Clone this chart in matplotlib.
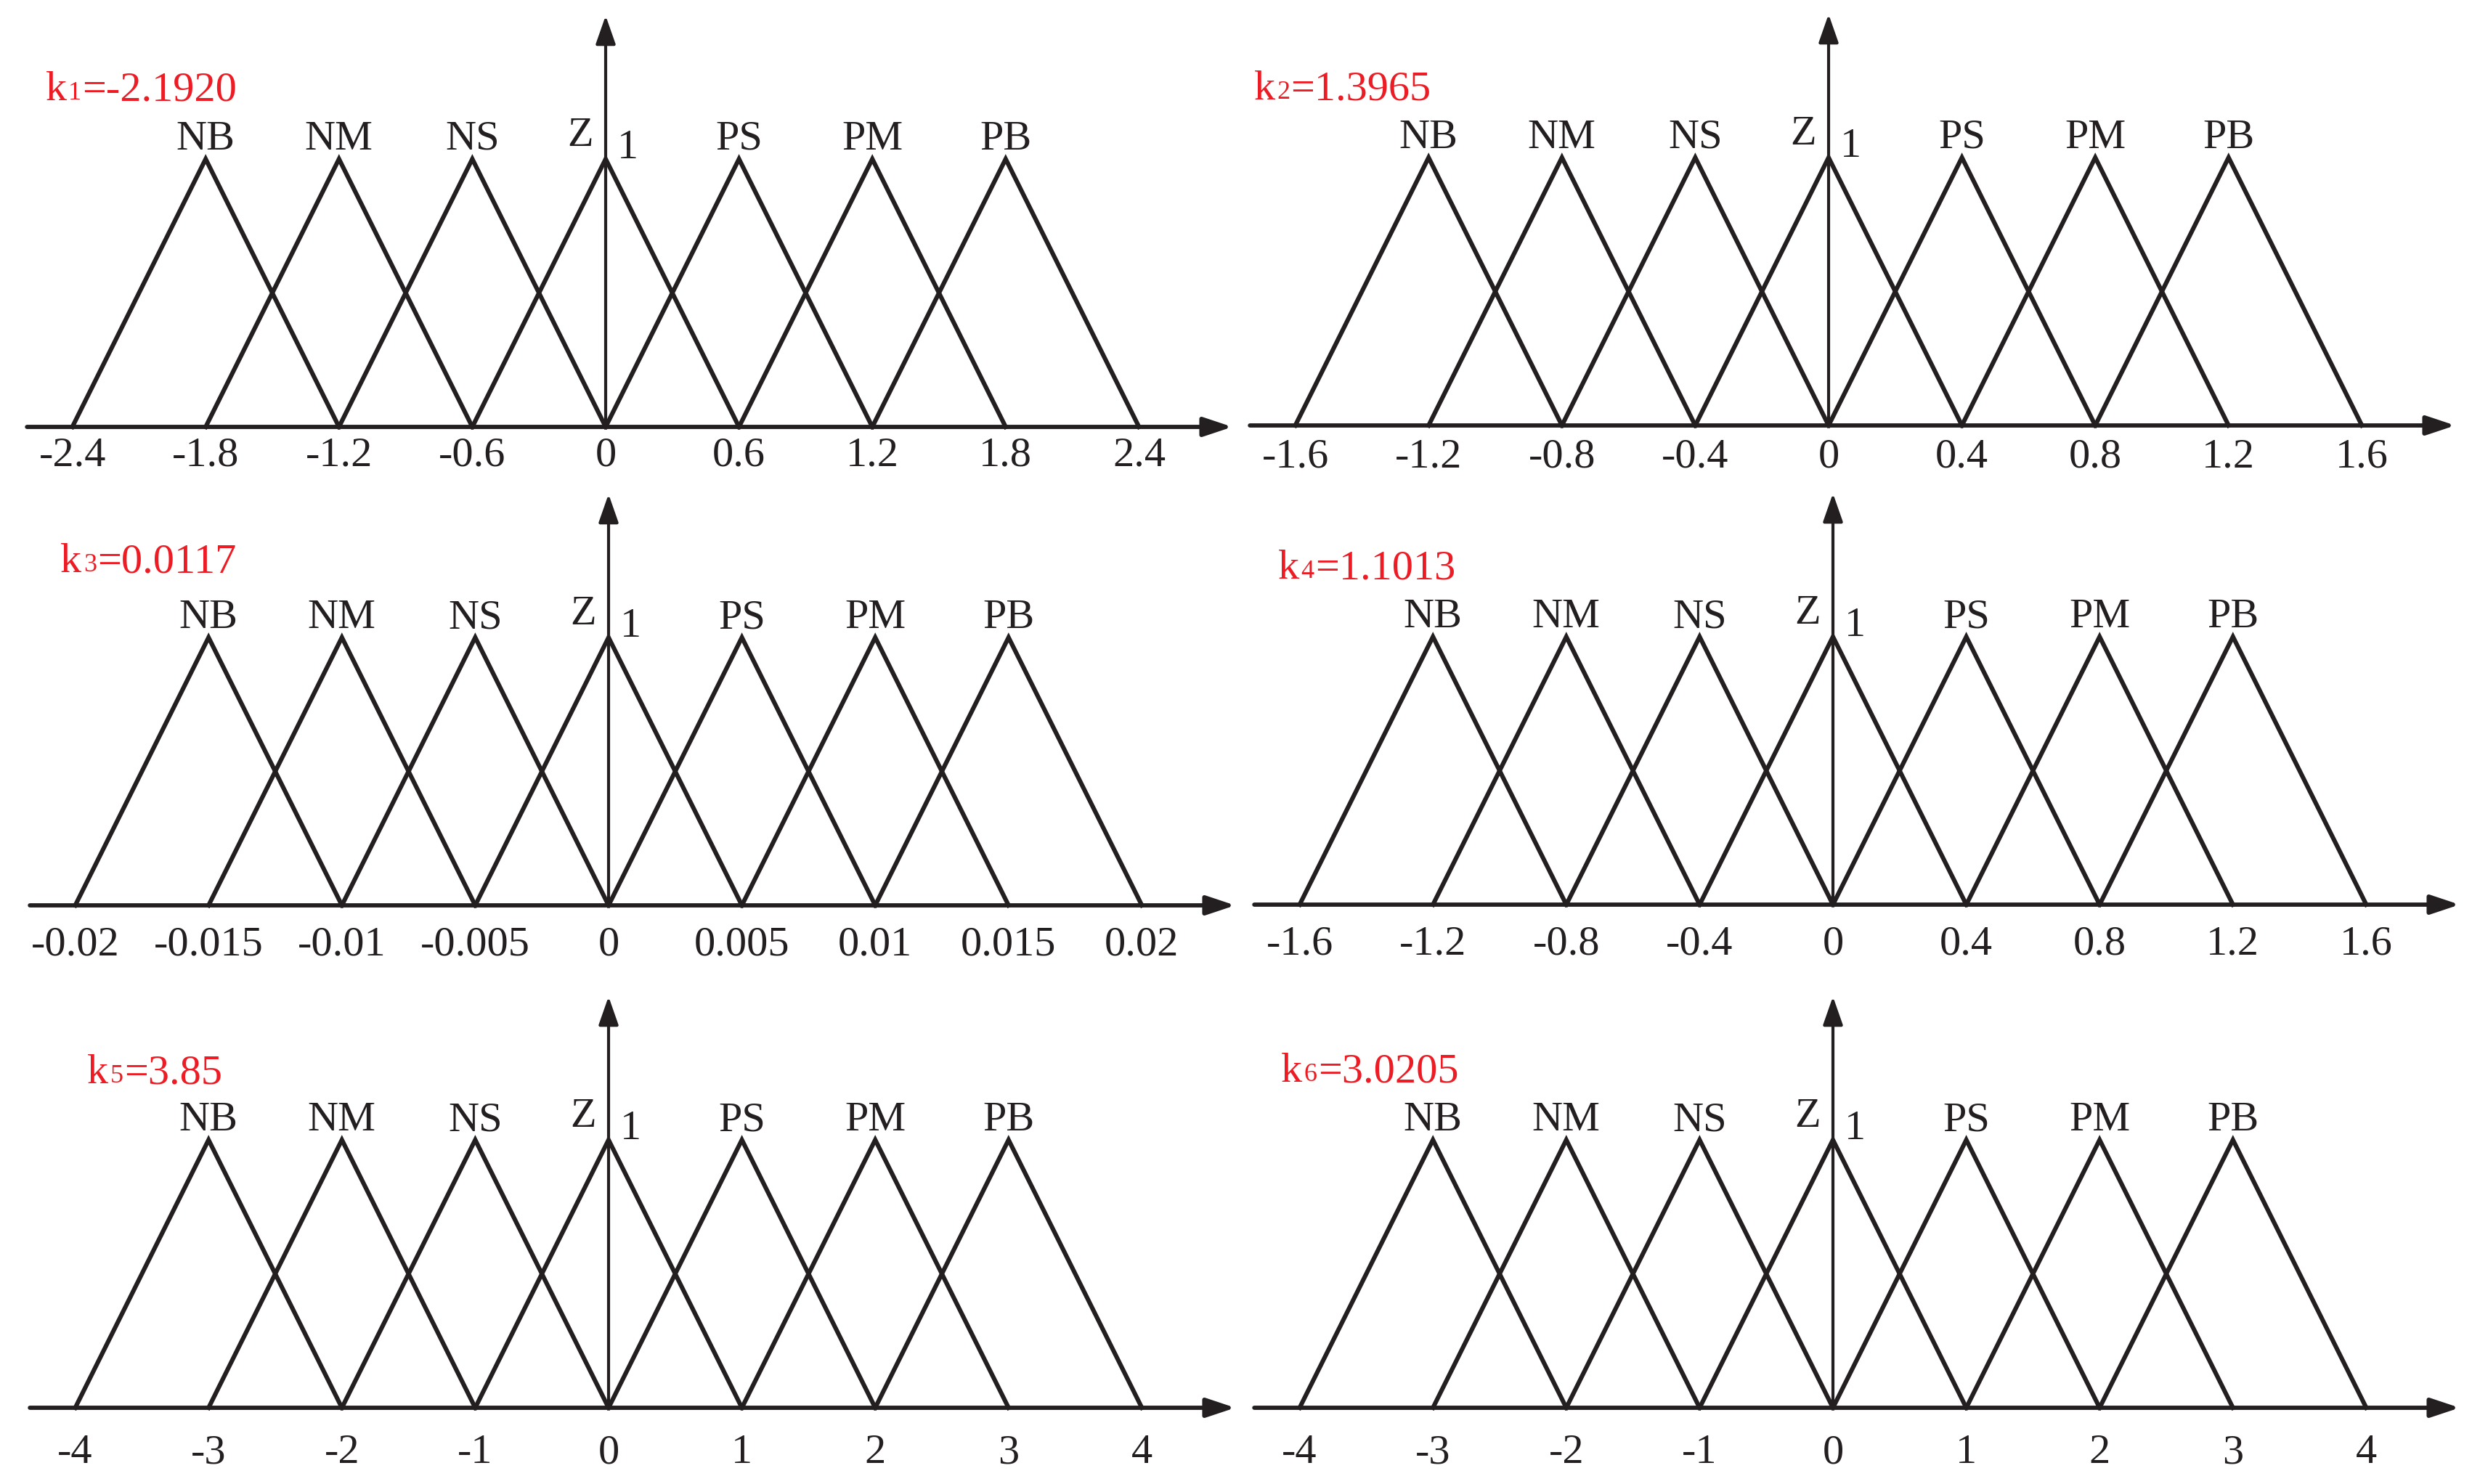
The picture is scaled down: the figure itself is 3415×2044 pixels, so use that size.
import matplotlib.pyplot as plt

plt.rcParams['font.family'] = ['Liberation Serif', 'DejaVu Serif']

# membership labels and scale factors
mf_names = ['NB', 'NM', 'NS', 'Z', 'PS', 'PM', 'PB']
k_values = ['-2.1920', '1.3965', '0.0117', '1.1013', '3.85', '3.0205']

# universe of discourse (tick values) for each panel
ticks1 = [-2.4, -1.8, -1.2, -0.6, 0, 0.6, 1.2, 1.8, 2.4]
ticks2 = [-1.6, -1.2, -0.8, -0.4, 0, 0.4, 0.8, 1.2, 1.6]
ticks3 = [-0.02, -0.015, -0.01, -0.005, 0, 0.005, 0.01, 0.015, 0.02]
ticks4 = [-1.6, -1.2, -0.8, -0.4, 0, 0.4, 0.8, 1.2, 1.6]
ticks5 = [-4, -3, -2, -1, 0, 1, 2, 3, 4]
ticks6 = [-4, -3, -2, -1, 0, 1, 2, 3, 4]

labels1 = ['-2.4', '-1.8', '-1.2', '-0.6', '0', '0.6', '1.2', '1.8', '2.4']
labels2 = ['-1.6', '-1.2', '-0.8', '-0.4', '0', '0.4', '0.8', '1.2', '1.6']
labels3 = ['-0.02', '-0.015', '-0.01', '-0.005', '0', '0.005', '0.01', '0.015', '0.02']
labels4 = ['-1.6', '-1.2', '-0.8', '-0.4', '0', '0.4', '0.8', '1.2', '1.6']
labels5 = ['-4', '-3', '-2', '-1', '0', '1', '2', '3', '4']
labels6 = ['-4', '-3', '-2', '-1', '0', '1', '2', '3', '4']

all_ticks = [ticks1, ticks2, ticks3, ticks4, ticks5, ticks6]
all_labels = [labels1, labels2, labels3, labels4, labels5, labels6]

# layout (pixels in the 3415x2044 image)
W, H, DPI = 3415, 2044, 200
G = 183.6      # px per tick step
HP = 369       # px for membership 1
origins = [(834, 588), (2518, 586), (838, 1247), (2524, 1246), (838, 1939), (2524, 1939)]
tick_drop = [53, 57, 68, 68, 76, 76]           # baseline of tick labels below axis
k_pos = [(-4.20, 450), (-4.31, 449), (-4.11, 459), (-4.16, 449), (-3.91, 447), (-4.14, 449)]

BLACK = '#231f20'
RED = '#ed1c24'
FS = 21


def pt(px):
    return px * 72 / DPI


fig = plt.figure(figsize=(W / DPI, H / DPI), dpi=DPI)

for i in range(6):
    ticks = all_ticks[i]
    labels = all_labels[i]
    step = ticks[1] - ticks[0]
    ox, ay = origins[i]
    x0, x1, y0, y1 = -4.6, 4.9, -0.35, 1.7
    ax = fig.add_axes([(ox + x0 * G) / W, 1 - (ay - y0 * HP) / H,
                       (x1 - x0) * G / W, (y1 - y0) * HP / H])
    ax.set_xlim(x0 * step, x1 * step)
    ax.set_ylim(y0, y1)
    ax.axis('off')

    # triangular membership functions
    for c in ticks[1:-1]:
        ax.plot([c - step, c, c + step], [0, 1, 0], color=BLACK, lw=2.2,
                solid_joinstyle='miter', zorder=3)

    # axes with arrows
    ax.annotate('', xy=(4.70 * step, 0), xytext=(-4.34 * step, 0),
                arrowprops=dict(arrowstyle='-|>,head_length=1.2,head_width=0.4',
                                mutation_scale=10, lw=2.1, color=BLACK,
                                shrinkA=0, shrinkB=0))
    ax.annotate('', xy=(0, 1.535), xytext=(0, 0),
                arrowprops=dict(arrowstyle='-|>,head_length=1.2,head_width=0.42',
                                mutation_scale=10, lw=1.5, color=BLACK,
                                shrinkA=0, shrinkB=0))

    # tick labels
    for t, lb in zip(ticks, labels):
        ax.annotate(lb, (t, 0), xytext=(0, -pt(tick_drop[i])), textcoords='offset points',
                    ha='center', va='baseline', fontsize=FS, color=BLACK)

    # membership names
    for c, name in zip(ticks[1:-1], mf_names):
        if name == 'Z':
            ax.annotate(name, (c, 1), xytext=(pt(-35), pt(18)), textcoords='offset points',
                        ha='center', va='baseline', fontsize=FS, color=BLACK)
        else:
            ax.annotate(name, (c, 1), xytext=(0, pt(13)), textcoords='offset points',
                        ha='center', va='baseline', fontsize=FS, color=BLACK)
    ax.annotate('1', (0, 1), xytext=(pt(16), pt(1)), textcoords='offset points',
                ha='left', va='baseline', fontsize=FS, color=BLACK)

    # k label (k with small index on the baseline)
    kx, kr = k_pos[i]
    k_txt = ax.annotate('k', (kx * step, 0), xytext=(0, pt(kr)), textcoords='offset points',
                        ha='left', va='baseline', fontsize=FS, color=RED)
    sub = ax.annotate(str(i + 1), xy=(1, 0), xycoords=k_txt, xytext=(0.8, 1.75),
                      textcoords='offset points', ha='left', va='bottom',
                      fontsize=13, color=RED)
    ax.annotate('=' + k_values[i], xy=(1, 0), xycoords=(sub, k_txt), xytext=(0.5, 0),
                textcoords='offset points', ha='left', va='bottom', fontsize=FS, color=RED)

fig.savefig('out.png', dpi=DPI)
